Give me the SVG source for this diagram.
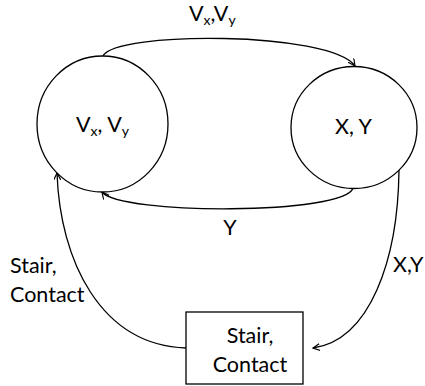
<svg xmlns="http://www.w3.org/2000/svg" width="425" height="386" viewBox="0 0 425 386">
<style>
.n{fill:#fff;stroke:#000;stroke-width:1.3}
.t{font-family:Lato,"Liberation Sans",sans-serif;font-size:21.5px;fill:#000}
.s{font-size:14px}
.c{fill:none;stroke:#000;stroke-width:1.3}
</style>
<defs>
<marker id="a" markerUnits="userSpaceOnUse" markerWidth="12" markerHeight="12" refX="7" refY="3.5" orient="auto">
<path d="M0,0 L7,3.5 L0,7" fill="none" stroke="#000" stroke-width="1.2"/>
</marker>
</defs>
<g id="connectors">
<path class="c" d="M103,56 C115,31 330,31 355,66" marker-end="url(#a)"/>
<path class="c" d="M353,188 C345,215 120,215 102,192" marker-end="url(#a)"/>
<path class="c" d="M186,348 C100,345 60,260 57,173" marker-end="url(#a)"/>
<path class="c" d="M399,170 C398,260 370,340 313,348" marker-end="url(#a)"/>
<text class="t" x="189" y="21">V<tspan class="s" dy="4">x</tspan><tspan dy="-4">,V</tspan><tspan class="s" dy="4">y</tspan></text>
<text class="t" x="230" y="235" text-anchor="middle">Y</text>
<text class="t" x="10" y="273">Stair,</text>
<text class="t" x="10" y="302">Contact</text>
<text class="t" x="393" y="272">X,Y</text>
</g>
<g id="node-v">
<ellipse class="n" cx="102.5" cy="124" rx="65.5" ry="68"/>
<text class="t" x="76" y="132">V<tspan class="s" dy="4">x</tspan><tspan dy="-4">, V</tspan><tspan class="s" dy="4">y</tspan></text>
</g>
<g id="node-xy">
<ellipse class="n" cx="354" cy="127.5" rx="63" ry="61"/>
<text class="t" x="353.5" y="134" text-anchor="middle">X, Y</text>
</g>
<g id="node-stair">
<rect class="n" x="186" y="312" width="117" height="72"/>
<text class="t" x="250" y="343" text-anchor="middle">Stair,</text>
<text class="t" x="250" y="372" text-anchor="middle">Contact</text>
</g>
</svg>
